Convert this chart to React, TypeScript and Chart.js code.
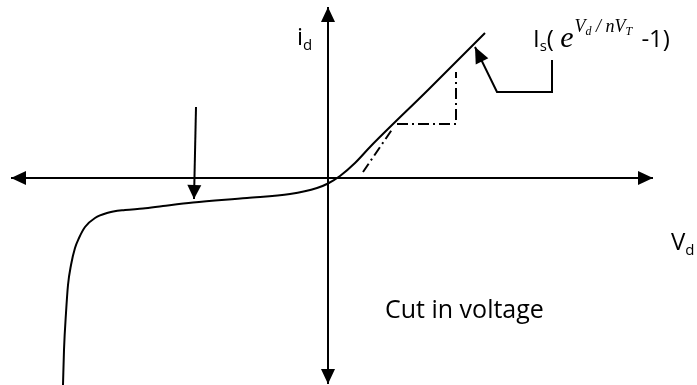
import React, { useEffect, useRef } from "react";
import { Chart, registerables } from "chart.js";

Chart.register(...registerables);

// Diagram units: origin at the axes' crossing, V to the right, i upwards.
const curveV = [-265, -264, -262, -260, -257, -253, -249, -243, -233, -221, -203, -185, -165, -135, -81, -38, -11, 0, 12, 27, 42, 100, 157];
const curveI = [-207, -172, -135, -107, -87, -70, -60, -49, -40, -35, -32, -30.5, -28, -24.5, -20, -16, -10, -5.5, 2, 15, 31, 88, 145];

const tangentV = [35, 65];
const tangentI = [6, 50];
const stepV = [69, 128, 128];
const stepI = [54, 54, 106];

const hAxisV = [-317, 325];
const hAxisI = [0, 0];
const vAxisV = [0, 0];
const vAxisI = [171, -206];
const breakArrowV = [-132, -134];
const breakArrowI = [71, -21];
const pointerV = [224, 224, 169, 147];
const pointerI = [118, 86, 86, 131];

const V_MIN = -328, V_MAX = 369, I_MIN = -207, I_MAX = 178;

const pts = (xs: number[], ys: number[]) => xs.map((x, i) => ({ x, y: ys[i] }));

const SANS = '"Open Sans", "Noto Sans", sans-serif';
const SERIF = '"Liberation Serif", "DejaVu Serif", serif';

const diagramPlugin = {
  id: "diagram",
  afterDatasetsDraw(chart: any) {
    const ctx: CanvasRenderingContext2D = chart.ctx;
    const xs = chart.scales.x;
    const ys = chart.scales.y;
    const px = (v: number) => xs.getPixelForValue(v);
    const py = (v: number) => ys.getPixelForValue(v);

    const head = (fx: number, fy: number, tx: number, ty: number, len: number, half: number) => {
      const ax = px(fx), ay = py(fy), bx = px(tx), by = py(ty);
      const dx = bx - ax, dy = by - ay;
      const d = Math.hypot(dx, dy) || 1;
      const ux = dx / d, uy = dy / d;
      const bxs = bx - ux * len, bys = by - uy * len;
      ctx.beginPath();
      ctx.moveTo(bx, by);
      ctx.lineTo(bxs - uy * half, bys + ux * half);
      ctx.lineTo(bxs + uy * half, bys - ux * half);
      ctx.closePath();
      ctx.fill();
    };

    ctx.save();
    ctx.fillStyle = "#000";
    head(hAxisV[1], hAxisI[1], hAxisV[0], hAxisI[0], 15, 7);
    head(hAxisV[0], hAxisI[0], hAxisV[1], hAxisI[1], 15, 7);
    head(vAxisV[1], vAxisI[1], vAxisV[0], vAxisI[0], 15, 7);
    head(vAxisV[0], vAxisI[0], vAxisV[1], vAxisI[1], 15, 7);
    head(breakArrowV[0], breakArrowI[0], breakArrowV[1], breakArrowI[1], 14, 7);
    const n = pointerV.length;
    head(pointerV[n - 2], pointerI[n - 2], pointerV[n - 1], pointerI[n - 1], 16, 7);

    ctx.textBaseline = "alphabetic";
    ctx.textAlign = "left";

    // i_d
    let x = px(-31), base = py(133);
    ctx.font = `24px ${SANS}`;
    ctx.fillText("i", x, base);
    x += ctx.measureText("i").width;
    ctx.font = `15px ${SANS}`;
    ctx.fillText("d", x, base + 5);

    // V_d
    x = px(343); base = py(-72);
    ctx.font = `24px ${SANS}`;
    ctx.fillText("V", x, base);
    x += ctx.measureText("V").width;
    ctx.font = `15px ${SANS}`;
    ctx.fillText("d", x, base + 5);

    // Cut in voltage
    ctx.font = `25px ${SANS}`;
    ctx.fillText("Cut in voltage", px(57), py(-140));

    // I_s( e^{Vd/nVT} -1)
    x = px(205); base = py(131);
    ctx.font = `24px ${SANS}`;
    ctx.fillText("I", x, base);
    x += ctx.measureText("I").width;
    ctx.font = `15px ${SANS}`;
    ctx.fillText("s", x, base + 4);
    x += ctx.measureText("s").width;
    ctx.font = `24px ${SANS}`;
    ctx.fillText("( ", x, base);
    x += ctx.measureText("( ").width;
    ctx.font = `italic 30px ${SERIF}`;
    ctx.fillText("e", x, base);
    x += ctx.measureText("e").width + 1;
    const sb = base - 15;
    const sup = (t: string, size: number, dy: number) => {
      ctx.font = `italic ${size}px ${SERIF}`;
      ctx.fillText(t, x, sb + dy);
      x += ctx.measureText(t).width;
    };
    sup("V", 18, 0);
    sup("d", 12, 3);
    sup(" / ", 18, 0);
    sup("nV", 18, 0);
    sup("T", 12, 3);
    ctx.font = `24px ${SANS}`;
    ctx.fillText(" -1)", x + 3, base);
    ctx.restore();
  },
};

export default function App() {
  const ref = useRef<HTMLCanvasElement | null>(null);

  useEffect(() => {
    if (!ref.current) return;
    const line = (data: any[], extra: any = {}) => ({
      data,
      showLine: true,
      borderColor: "#000",
      backgroundColor: "#000",
      borderWidth: 2,
      pointRadius: 0,
      pointHoverRadius: 0,
      tension: 0,
      fill: false,
      ...extra,
    });
    const chart = new Chart(ref.current, {
      type: "scatter",
      data: {
        datasets: [
          line(pts(hAxisV, hAxisI)),
          line(pts(vAxisV, vAxisI)),
          line(pts(curveV, curveI), { cubicInterpolationMode: "monotone", borderWidth: 2 }),
          line(pts(tangentV, tangentI), { borderWidth: 2, borderDash: [10, 4, 2, 4] }),
          line(pts(stepV, stepI), { borderWidth: 2, borderDash: [11, 4, 2, 4] }),
          line(pts(breakArrowV, breakArrowI)),
          line(pts(pointerV, pointerI)),
        ],
      },
      options: {
        animation: false,
        responsive: false,
        maintainAspectRatio: false,
        layout: { padding: 0 },
        plugins: { legend: { display: false }, tooltip: { enabled: false }, title: { display: false } },
        events: [],
        scales: {
          x: { type: "linear", min: V_MIN, max: V_MAX, display: false },
          y: { type: "linear", min: I_MIN, max: I_MAX, display: false },
        },
      },
      plugins: [diagramPlugin],
    });
    return () => chart.destroy();
  }, []);

  return (
    <div style={{ position: "fixed", left: 0, top: 0, width: 697, height: 385, background: "#fff" }}>
      <canvas ref={ref} width={697} height={385} style={{ display: "block", width: 697, height: 385 }} />
    </div>
  );
}
